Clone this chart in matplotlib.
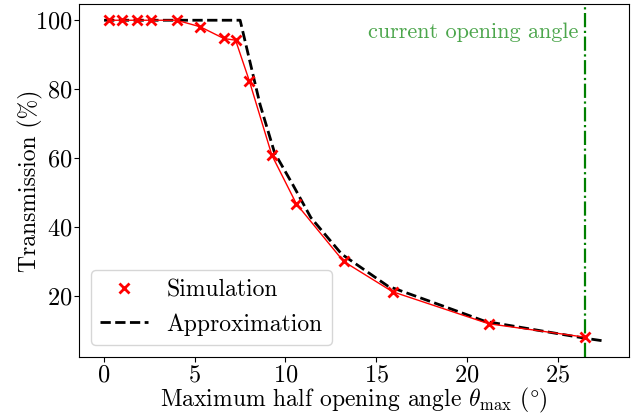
import matplotlib
matplotlib.use("Agg")
import matplotlib.pyplot as plt

plt.rcParams['font.family'] = ['cmr10', 'DejaVu Serif']
plt.rcParams['mathtext.fontset'] = 'cm'
plt.rcParams['axes.unicode_minus'] = False
plt.rcParams['axes.formatter.use_mathtext'] = True

# Simulation data
sim_theta = [0.25, 1.0, 1.8, 2.6, 4.0, 5.3, 6.6, 7.25, 8.0, 9.25, 10.6, 13.2, 15.9, 21.2, 26.5]
sim_trans = [100, 100, 100, 100, 100, 98.1, 94.7, 94.2, 82.5, 60.8, 46.7, 30.0, 21.2, 11.9, 8.0]

# Approximation curve
approx_theta = [0.0, 7.5, 8.6, 9.4, 10.4, 11.4, 13.1, 15.65, 18.6, 21.0, 26.5, 27.55]
approx_trans = [100, 100, 75.5, 61.5, 52.3, 42.7, 32.1, 22.8, 17.2, 12.6, 7.7, 6.9]

current_angle = 26.5

fig = plt.figure(figsize=(6.43, 4.2), dpi=100)
ax = fig.add_axes([0.123, 0.15, 0.855, 0.84])

ax.plot(sim_theta, sim_trans, color='red', lw=1.0, zorder=3)
ax.plot(sim_theta, sim_trans, ls='none', marker='x', color='red', ms=7, mew=2.0,
        label='Simulation', zorder=4)
ax.plot(approx_theta, approx_trans, 'k--', lw=2.0, label='Approximation', zorder=2)
ax.axvline(current_angle, color='green', ls='-.', lw=1.6, zorder=1)
ax.text(26.15, 96.5, 'current opening angle', color='green', alpha=0.7,
        ha='right', va='center', fontsize=16)

ax.set_xlabel(r'Maximum half opening angle $\theta_{\rm max}$ ($\degree$)', fontsize=17,
              labelpad=0)
ax.set_ylabel('Transmission (%)', fontsize=17, labelpad=-6)
ax.set_xticks([0, 5, 10, 15, 20, 25])
ax.set_yticks([20, 40, 60, 80, 100])
ax.tick_params(labelsize=17.5, pad=1.5)
ax.legend(loc='lower left', fontsize=17)

fig.savefig('out.png', dpi=100)
